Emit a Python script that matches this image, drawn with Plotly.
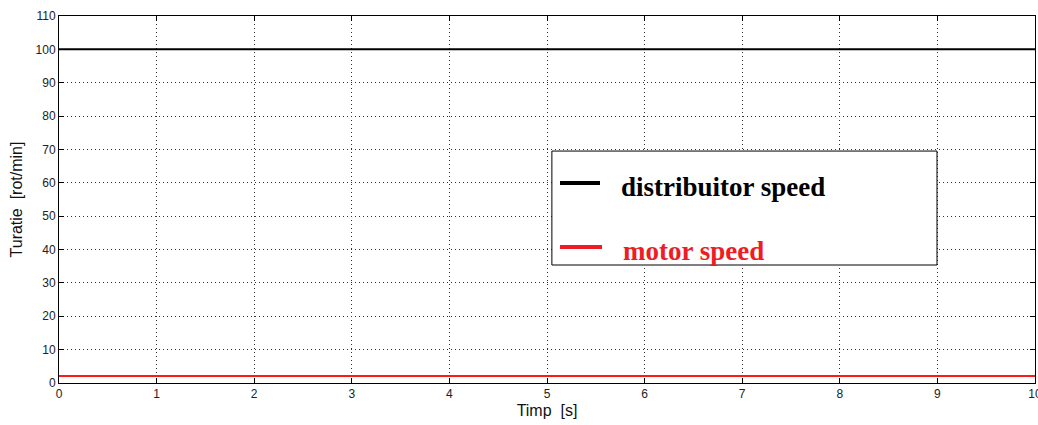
import plotly.graph_objects as go

time_s = [0, 10]
distributor_speed = [100, 100]
motor_speed = [2.1, 2.1]
x_ticks = list(range(0, 11))
y_ticks = list(range(0, 111, 10))

fig = go.Figure()
fig.add_trace(go.Scatter(x=time_s, y=distributor_speed, mode="lines",
                         line=dict(color="black", width=2), name="distribuitor speed"))
fig.add_trace(go.Scatter(x=time_s, y=motor_speed, mode="lines",
                         line=dict(color="#ff1a1a", width=2), name="motor speed"))

axis_common = dict(showline=True, linecolor="black", linewidth=1, mirror="ticks",
                   ticks="inside", ticklen=5, tickcolor="black",
                   showgrid=True, gridcolor="#333", griddash="1px,3px", gridwidth=1,
                   zeroline=False, ticklabeloverflow="allow", automargin=False,
                   tickfont=dict(family="Liberation Sans", size=12, color="#222"))

fig.update_xaxes(range=[0, 10], tickvals=x_ticks, title=dict(text="Timp  [s]", standoff=4,
                 font=dict(family="Liberation Sans", size=16, color="#111")), **axis_common)
fig.update_yaxes(range=[0, 110], tickvals=y_ticks, title=dict(text="Turatie  [rot/min]", standoff=8,
                 font=dict(family="Liberation Sans", size=16, color="#111")), **axis_common)

# manual legend box
fig.add_shape(type="rect", xref="paper", yref="paper", x0=0.505, x1=0.8996, y0=0.3215, y1=0.632,
              line=dict(color="black", width=1), fillcolor="white")
fig.add_shape(type="line", xref="paper", yref="paper", x0=(560-59)/976, x1=(600-59)/976,
              y0=(383-183)/367, y1=(383-183)/367, line=dict(color="black", width=4))
fig.add_shape(type="line", xref="paper", yref="paper", x0=(560-59)/976, x1=(602-59)/976,
              y0=(383-247)/367, y1=(383-247)/367, line=dict(color="#ee1c25", width=4))
fig.add_annotation(xref="paper", yref="paper", x=(619-59)/976, y=(383-187)/367, xanchor="left",
                   yanchor="middle", showarrow=False, text="<b>distribuitor speed</b>",
                   font=dict(family="Liberation Serif", size=27, color="black"))
fig.add_annotation(xref="paper", yref="paper", x=(621-59)/976, y=(383-251)/367, xanchor="left",
                   yanchor="middle", showarrow=False, text="<b>motor speed</b>",
                   font=dict(family="Liberation Serif", size=27, color="#ee1c25"))

fig.update_layout(width=1038, height=425, margin=dict(l=59, r=3, t=16, b=42),
                  plot_bgcolor="white", paper_bgcolor="white", showlegend=False)
fig.write_html("out.html")
